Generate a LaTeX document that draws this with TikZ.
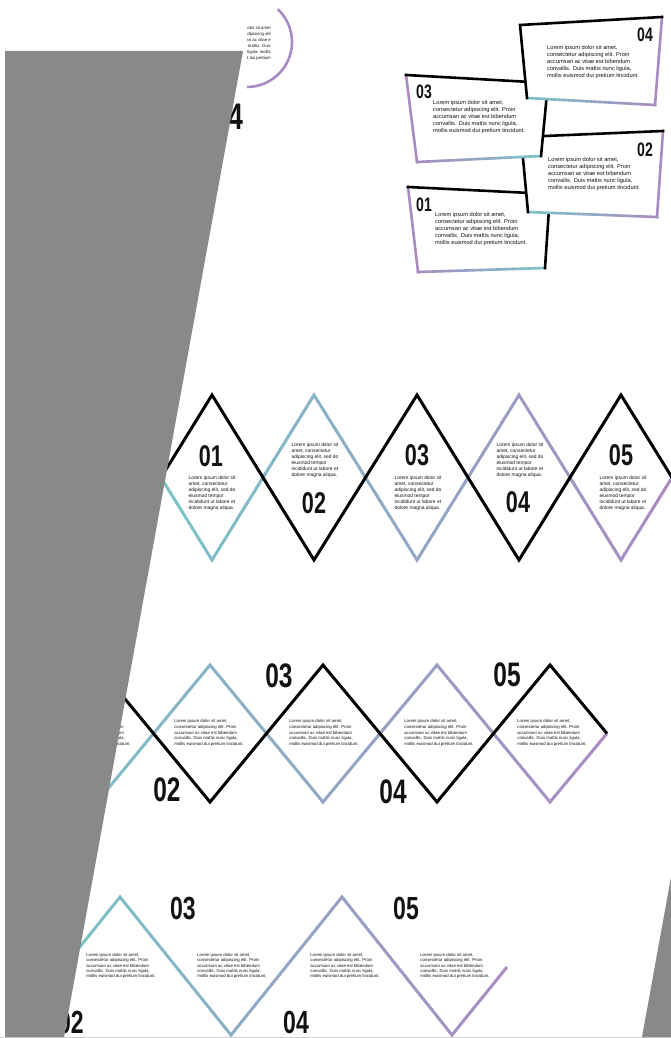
\documentclass[tikz,border=0pt]{standalone}
\usepackage{fontspec}
\newfontfamily\txtfont{Liberation Sans}
\newfontfamily\numfont[FakeStretch=0.72]{Liberation Sans}
\definecolor{cy}{RGB}{122,198,200}
\definecolor{pu}{RGB}{170,138,194}
\definecolor{gr}{RGB}{137,137,137}
\definecolor{ink}{RGB}{18,18,18}
\definecolor{edge}{RGB}{205,205,205}
\newcommand{\gradstroke}[6][]{%
  \foreach \i in {0,...,29}{%
    \pgfmathsetmacro{\xa}{#2+(#3-#2)/30*\i-0.4}%
    \pgfmathsetmacro{\xb}{#2+(#3-#2)/30*(\i+1)+0.4}%
    \pgfmathtruncatemacro{\pc}{100-100*(\i+0.5)/30}%
    \begin{scope}
      \clip (\xa,-20) rectangle (\xb,1100);
      \draw[#1, draw=#4!\pc!#5] #6;
    \end{scope}
  }}
\newcommand{\lorA}{Lorem ipsum dolor sit\\amet, consectetur\\adipiscing elit, sed do\\eiusmod tempor\\incididunt ut labore et\\dolore magna aliqua.}
\newcommand{\lorB}{Lorem ipsum dolor sit amet,\\consectetur adipiscing elit. Proin\\accumsan ac vitae est bibendum\\convallis. Duis mattis nunc ligula,\\mollis euismod dui pretium tincidunt.}
\tikzset{
  zz/.style={line width=3pt, line join=miter},
  cardln/.style={line width=2.6pt, line cap=rect, line join=miter},
  rowAtxt/.style={font=\txtfont\fontsize{4.9}{6.1}\selectfont, align=left, inner sep=0pt, text=ink},
  rowBtxt/.style={font=\txtfont\fontsize{4.3}{5.7}\selectfont, align=left, inner sep=0pt, text=ink},
  rowCtxt/.style={font=\txtfont\fontsize{4.3}{5.4}\selectfont, align=left, inner sep=0pt, text=ink},
  cardtxt/.style={font=\txtfont\fontsize{5.7}{7}\selectfont, align=left, inner sep=0pt, text=ink, anchor=north west},
  numA/.style={font=\numfont\bfseries\fontsize{30}{30}\selectfont, inner sep=0pt, text=ink},
  numB/.style={font=\numfont\bfseries\fontsize{34}{34}\selectfont, inner sep=0pt, text=ink},
  numC/.style={font=\numfont\bfseries\fontsize{32}{32}\selectfont, inner sep=0pt, text=ink},
  numK/.style={font=\numfont\bfseries\fontsize{19.5}{19.5}\selectfont, inner sep=0pt, text=ink},
}
\begin{document}
\begin{tikzpicture}[x=1pt,y=-1pt]
\useasboundingbox (0,0) rectangle (671,1038);
\fill[white] (0,0) rectangle (671,1038);

% ---- top-left partial circle ----
\begin{scope}
  \clip (247,-5) rectangle (330,96);
  \draw[pu, line width=2.6pt] (247,42) ++(-47:45) arc[start angle=-47, end angle=90, radius=45];
  \node[font=\txtfont\fontsize{4.3}{6}\selectfont, align=right, inner sep=0pt, text=ink, anchor=east] (circtxt) at (271,43)
    {Lorem ipsum dolor sit amet\\consectetur adipiscing elit\\Proin accumsan ac vitae e\\bibendum convallis mattis. Duis\\mattis nunc ligula, mollis\\euismod dui pretium};
\end{scope}
\node[font=\numfont\bfseries\fontsize{37}{37}\selectfont, inner sep=0pt, text=ink, anchor=east] (tl04) at (243.5,117) {04};

% ---- cards ----
% card 01
\fill[white] (408,187) -- (550,194) -- (545,268) -- (418,272) -- cycle;
\gradstroke[cardln]{415}{548}{pu}{cy}{(418,272) -- (545,268)}
\draw[cardln, pu] (408,187) -- (418,272);
\draw[cardln, black] (408,187) -- (550,194) -- (545,268);
\node[numK] (c01n) at (424,205) {01};
\node[cardtxt] (c01t) at (435,212) {\lorB};
% card 02
\fill[white] (521,137) -- (663,131) -- (657,217) -- (528,212) -- cycle;
\gradstroke[cardln]{525}{660}{cy}{pu}{(528,212) -- (657,217)}
\draw[cardln, pu] (663,131) -- (657,217);
\draw[cardln, black] (528,212) -- (521,137) -- (663,131);
\node[numK] (c02n) at (645,150) {02};
\node[cardtxt] (c02t) at (548,157) {\lorB};
% card 03
\fill[white] (406,75) -- (548,83) -- (541,156) -- (417,162) -- cycle;
\gradstroke[cardln]{414}{544}{pu}{cy}{(417,162) -- (541,156)}
\draw[cardln, pu] (406,75) -- (417,162);
\draw[cardln, black] (406,75) -- (548,83) -- (541,156);
\node[numK] (c03n) at (424,92) {03};
\node[cardtxt] (c03t) at (433,100) {\lorB};
% card 04
\fill[white] (520,25) -- (662,17) -- (655,105) -- (527,98) -- cycle;
\gradstroke[cardln]{524}{658}{cy}{pu}{(527,98) -- (655,105)}
\draw[cardln, pu] (662,17) -- (655,105);
\draw[cardln, black] (527,98) -- (520,25) -- (662,17);
\node[numK] (c04n) at (645,35) {04};
\node[cardtxt] (c04t) at (547,45) {\lorB};

% ---- row 1 ----
\gradstroke[zz]{150}{676}{cy}{pu}{(161,477.5) -- (212,560) -- (314,395) -- (417,560) -- (519,395) -- (621,560) -- (672,477.5)}
\draw[zz, black] (161,477.5) -- (212,395) -- (314,560) -- (417,395) -- (519,560) -- (621,395) -- (672,477.5);
\node[numA] (r1n1) at (211,456) {01};
\node[rowAtxt] (r1t1) at (212,493) {\lorA};
\node[rowAtxt] (r1t2) at (315,460) {\lorA};
\node[numA] (r1n2) at (314,503) {02};
\node[numA] (r1n3) at (417,455) {03};
\node[rowAtxt] (r1t3) at (418,493) {\lorA};
\node[rowAtxt] (r1t4) at (520,460) {\lorA};
\node[numA] (r1n4) at (518,502) {04};
\node[numA] (r1n5) at (621,455) {05};
\node[rowAtxt] (r1t5) at (623,493) {\lorA};

% ---- row 2 ----
\gradstroke[zz]{30}{612}{cy}{pu}{(40,733.5) -- (97,802) -- (210,665) -- (323,802) -- (437,665) -- (550,802) -- (607,733.5)}
\draw[zz, black] (40,733.5) -- (97,665) -- (210,802) -- (323,665) -- (437,802) -- (550,665) -- (607,733.5);
\node[rowBtxt] (r2t1) at (96,733) {\lorB};
\node[rowBtxt] (r2t2) at (209,733) {\lorB};
\node[rowBtxt] (r2t3) at (324,733) {\lorB};
\node[rowBtxt] (r2t4) at (439,733) {\lorB};
\node[rowBtxt] (r2t5) at (552,733) {\lorB};
\node[numB] (r2n2) at (167,790) {02};
\node[numB] (r2n3) at (279,676) {03};
\node[numB] (r2n4) at (393,792) {04};
\node[numB] (r2n5) at (507,675) {05};

% ---- row 3 ----
\gradstroke[zz]{60}{512}{cy}{pu}{(9,1035) -- (120,897) -- (231,1035) -- (342,897) -- (452,1035) -- (507,967)}
\begin{scope}
  \clip (-5,850) rectangle (62,1100);
  \draw[zz, cy] (9,1035) -- (120,897);
\end{scope}
\node[rowCtxt] (r3t1) at (121,966) {\lorB};
\node[rowCtxt] (r3t2) at (232,966) {\lorB};
\node[rowCtxt] (r3t3) at (345,966) {\lorB};
\node[rowCtxt] (r3t4) at (455,966) {\lorB};
\node[numC] (r3n2) at (71,1022.5) {02};
\node[numC] (r3n3) at (183,908) {03};
\node[numC] (r3n4) at (296,1022.5) {04};
\node[numC] (r3n5) at (406,908) {05};

% ---- gray overlays ----
\draw[edge, line width=1pt] (0,1037.5) -- (671,1037.5);
\fill[gr] (5,51) -- (243,51) -- (64,1037) -- (5,1037) -- cycle;
\fill[gr] (671,877) -- (642,1037) -- (671,1037) -- cycle;
\end{tikzpicture}
\end{document}
